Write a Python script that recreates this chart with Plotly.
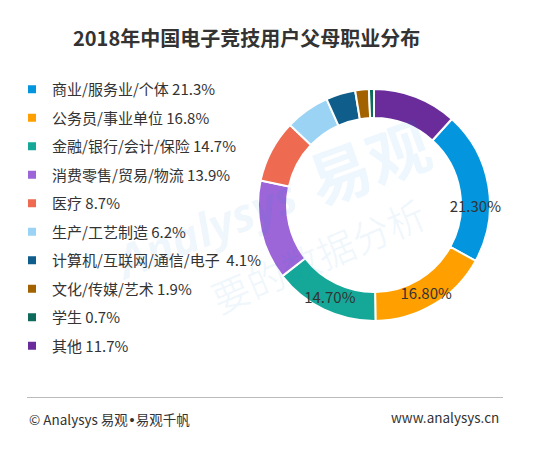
import plotly.graph_objects as go

title = "2018年中国电子竞技用户父母职业分布"
categories = ["商业/服务业/个体", "公务员/事业单位", "金融/银行/会计/保险", "消费零售/贸易/物流",
              "医疗", "生产/工艺制造", "计算机/互联网/通信/电子 ", "文化/传媒/艺术", "学生", "其他"]
values = [21.3, 16.8, 14.7, 13.9, 8.7, 6.2, 4.1, 1.9, 0.7, 11.7]
labelled = ["商业/服务业/个体", "公务员/事业单位", "金融/银行/会计/保险"]
colors = ["#0396DE", "#FFA000", "#15A898", "#9C65D8", "#EE6A50",
          "#9BD3F5", "#0E5D8B", "#A36200", "#0E6B5B", "#6A2C9A"]
footer_brand = "© Analysys 易观"
footer_brand2 = "易观千帆"
footer_right = "www.analysys.cn"

FONT = "Noto Sans CJK SC"
W, H, OFF = 553, 452, 8  # page body margin offset


def px(x):
    return (x - OFF) / W


def py(y):
    return 1 - (y - OFF) / H


legend_names = [f"{c} {v}%" for c, v in zip(categories, values)]
slice_text = [f"{v:.2f}%" if c in labelled else "" for c, v in zip(categories, values)]

fig = go.Figure()
fig.add_trace(go.Pie(
    labels=categories, values=values, sort=False, direction="clockwise",
    rotation=values[-1] * 3.6, hole=0.75,
    marker=dict(colors=colors, line=dict(color="white", width=2)),
    text=slice_text, textinfo="text", textposition="inside",
    insidetextorientation="horizontal",
    textfont=dict(family=FONT, size=15, color="#333333"),
    domain=dict(x=[px(258), px(490)], y=[py(321), py(89)]),
    showlegend=False, hoverinfo="label+percent",
))
for i, (n, c) in enumerate(zip(legend_names, colors)):
    fig.add_trace(go.Scatter(
        x=[None], y=[None], mode="markers", name=n, legendgroup=f"g{i}",
        marker=dict(symbol="square", size=8, color=c),
    ))

wm_blue = "rgba(0,140,220,0.07)"
fig.update_layout(
    width=W, height=H, margin=dict(l=0, r=0, t=0, b=0),
    paper_bgcolor="white", plot_bgcolor="white",
    font=dict(family=FONT, color="#333333"),
    xaxis=dict(visible=False), yaxis=dict(visible=False),
    uniformtext=dict(minsize=15, mode="show"),
    legend=dict(x=px(12), y=py(73), xanchor="left", yanchor="top",
                tracegroupgap=6, font=dict(family=FONT, size=15, color="#333333"),
                bgcolor="rgba(0,0,0,0)", itemclick=False),
    annotations=[
        # watermark
        dict(text="<b>易观</b>", x=px(368), y=py(160), xref="paper", yref="paper",
             showarrow=False, textangle=-20, xanchor="center", yanchor="middle",
             font=dict(family=FONT, size=62, color=wm_blue)),
        dict(text="<b><i>Analysys</i></b>", x=px(205), y=py(228), xref="paper", yref="paper",
             showarrow=False, textangle=-22, xanchor="center", yanchor="middle",
             font=dict(family="Open Sans", size=46, color=wm_blue)),
        dict(text="<span style='color:rgba(255,140,0,0.08)'>你</span>要的数据分析",
             x=px(300), y=py(262), xref="paper", yref="paper",
             showarrow=False, textangle=-23, xanchor="center", yanchor="middle",
             font=dict(family=FONT, size=38, color="rgba(0,140,220,0.06)")),
        # title and footer
        dict(text=f"<b>{title}</b>", x=px(246.5), y=py(37), xref="paper", yref="paper",
             xanchor="center", yanchor="middle",
             showarrow=False, font=dict(family=FONT, size=20, color="#333333")),
        dict(text=f"{footer_brand}<span style=\"font-family:'DejaVu Sans'\">•</span>{footer_brand2}",
             x=px(27), y=py(419), xref="paper", yref="paper",
             xanchor="left", yanchor="middle", showarrow=False,
             font=dict(family=FONT, size=13.5, color="#333333")),
        dict(text=footer_right, x=px(501), y=py(417), xref="paper", yref="paper",
             xanchor="right", yanchor="middle", showarrow=False,
             font=dict(family=FONT, size=13.5, color="#333333")),
    ],
    shapes=[dict(type="line", xref="paper", yref="paper", x0=px(27), x1=px(503),
                 y0=py(397.5), y1=py(397.5), line=dict(color="#BBBBBB", width=1))],
)

fig.write_html("out.html")
